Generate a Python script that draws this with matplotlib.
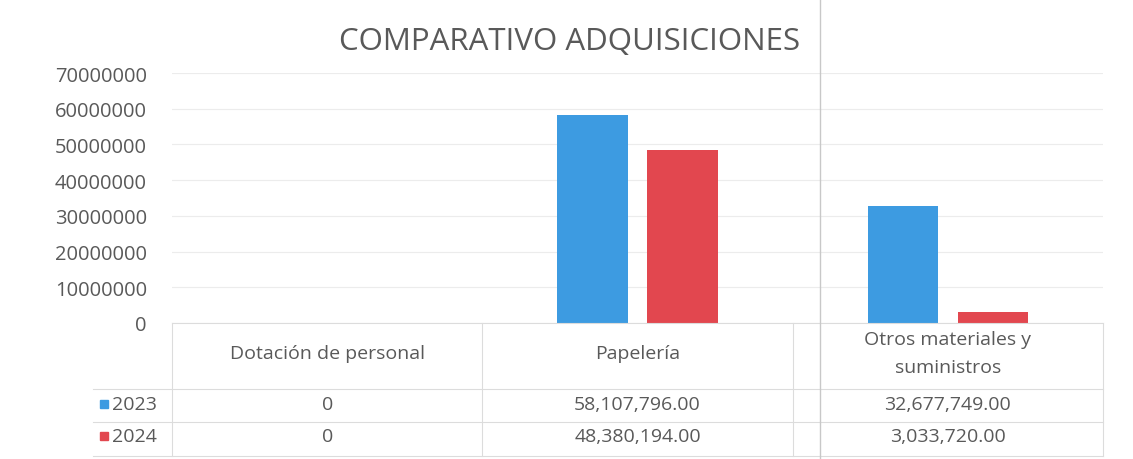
import matplotlib.pyplot as plt
from matplotlib.transforms import blended_transform_factory
from matplotlib.lines import Line2D

categories = ['Dotación de personal', 'Papelería', 'Otros materiales y\nsuministros']
years = ['2023', '2024']
values_2023 = [0, 58107796.00, 32677749.00]
values_2024 = [0, 48380194.00, 3033720.00]
labels_2023 = ['0', '58,107,796.00', '32,677,749.00']
labels_2024 = ['0', '48,380,194.00', '3,033,720.00']
yticks = [0, 10000000, 20000000, 30000000, 40000000, 50000000, 60000000, 70000000]

blue = '#3d9be1'
red = '#e2474f'
grey = '#595959'
linec = '#dcdcdc'

plt.rcParams['font.family'] = ['Open Sans', 'DejaVu Sans']

W, H = 1133, 460
fig = plt.figure(figsize=(W / 100, H / 100), dpi=100)
ax = fig.add_axes([172 / W, (H - 324) / H, (1103 - 172) / W, 250 / H])

x = list(range(len(categories)))
ax.bar([i - 0.145 for i in x], values_2023, width=0.226, color=blue, zorder=3)
ax.bar([i + 0.145 for i in x], values_2024, width=0.226, color=red, zorder=3)

ax.set_xlim(-0.5, len(categories) - 0.5)
ax.set_ylim(0, 70000000)
ax.set_yticks(yticks)
ax.set_yticklabels([str(v) for v in yticks], fontsize=14.5, color=grey, va='center_baseline')
ax.tick_params(axis='y', length=0, pad=18)
ax.set_xticks([])
ax.grid(axis='y', color='#ececec', lw=0.8, zorder=0)
for s in ax.spines.values():
    s.set_visible(False)

fig.text(570 / W, (H - 50) / H, 'COMPARATIVO ADQUISICIONES', ha='center', va='baseline',
         fontsize=22.5, color=grey)

# data table below the chart
tr = blended_transform_factory(ax.transData, fig.transFigure)
def fy(p):
    return (H - p) / H

fig.add_artist(Line2D([172 / W, 1103 / W], [fy(324), fy(324)], color=linec, lw=0.8))
for p in [390, 423, 457]:
    fig.add_artist(Line2D([93 / W, 1103 / W], [fy(p), fy(p)], color=linec, lw=0.8))
for b in [-0.5, 0.5, 1.5, 2.5]:
    ax.plot([b, b], [fy(324), fy(457)], transform=tr, color=linec, lw=0.8, clip_on=False)

for i, c in enumerate(categories):
    ax.text(i, fy(354), c, transform=tr, ha='center', va='center', fontsize=14,
            color=grey, linespacing=1.75)
    ax.text(i, fy(405), labels_2023[i], transform=tr, ha='center', va='center',
            fontsize=14, color=grey)
    ax.text(i, fy(437), labels_2024[i], transform=tr, ha='center', va='center',
            fontsize=14, color=grey)

for yr, col, p in zip(years, [blue, red], [405, 437]):
    fig.add_artist(plt.Rectangle((100 / W, fy(p + 4)), 8 / W, 8 / H, color=col))
    fig.text(112 / W, fy(p), yr, ha='left', va='center', fontsize=14, color=grey)

# scanned page fold line
fig.add_artist(Line2D([820 / W, 820 / W], [0, 1], color='#c8c8c8', lw=1))

fig.savefig('out.png', dpi=100)
